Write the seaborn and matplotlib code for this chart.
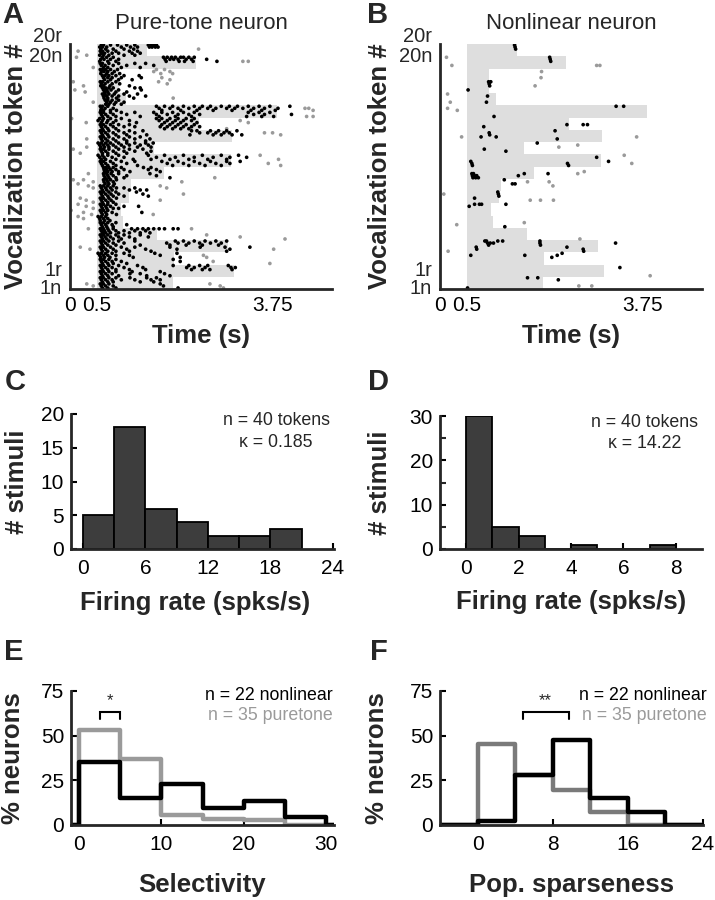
# Vocalization selectivity figure (panels A-F)

import pandas as pd
import matplotlib
matplotlib.use("Agg")
import matplotlib.pyplot as plt
import matplotlib.transforms as mtransforms
import seaborn as sns

# --- data ---

# stimulus duration (s) of tokens 1..20 (n and r versions share it), onset at 0.5 s
stim_dur = [1.40, 2.54, 1.43, 2.42, 1.11, 0.48, 0.44, 0.59, 0.62, 1.24,
            2.48, 1.06, 2.50, 1.89, 3.33, 0.54, 0.41, 0.41, 1.83, 0.92]
stim_onset = 0.5
resp_window = 0.42  # spikes later than stim end + this are spontaneous (gray)

# spike times (s); rows from top (20r, 20n, 19r ... 1r, 1n), trials split by "|"
raster_a = [
    "0.58 0.62 0.75 0.88 1.05 1.2 1.45 1.5 1.55 1.6 | 0.55 0.6 0.68 0.95 1.12 1.25 1.47 1.52 1.58 1.63 | 0.57 0.66 0.8 1.0 1.18 2.38",
    "0.15 0.56 0.6 0.7 0.85 1.1 1.25 | 0.58 0.64 0.78 0.9 1.15 1.3 | 0.31 0.55 0.62 0.72 1.0 1.2",
    "0.12 0.6 0.68 0.8 1.73 1.8 1.88 1.95 2.05 2.1 2.2 2.3 | 0.57 0.63 0.75 0.9 1.76 1.85 1.92 2.0 2.15 2.25 2.53 | 0.55 0.7 0.85 1.78 2.02 2.12 2.28 2.72 3.2 3.3",
    "0.56 0.6 0.72 0.9 1.2 1.4 | 0.58 0.65 0.8 1.05 1.55 | 0.43 0.62 0.7 0.95 1.3",
    "0.56 0.6 0.66 0.75 0.88 1.6 1.75 | 0.58 0.63 0.7 0.82 1.55 1.85 | 0.57 0.68 0.78 0.92 1.68 1.9",
    "0.6 0.65 0.72 0.85 1.0 1.28 | 0.62 0.7 0.78 0.95 1.32 1.7 | 0.64 0.75 0.9 1.15 1.85",
    "0.06 0.56 0.6 0.7 0.85 1.64 | 0.58 0.65 0.78 0.92 1.8 | 0.25 0.57 0.62 0.74 1.1",
    "0.6 0.66 0.72 0.8 1.2 1.3 | 0.09 0.62 0.68 0.76 0.9 1.32 | 0.28 0.64 0.7 0.85 1.05",
    "0.6 0.65 0.72 0.82 1.0 1.25 | 0.62 0.68 0.78 0.9 1.1 1.4 | 0.63 0.7 0.86 1.18 1.91",
    "0.65 0.7 0.78 0.9 | 0.43 0.68 0.75 0.85 1.0 | 0.66 0.72 0.82 0.95",
    "0.56 0.6 0.7 1.6 1.75 1.9 2.1 2.3 2.45 2.6 2.8 2.95 3.1 3.3 3.5 3.7 4.07 | 0.58 0.65 0.8 1.65 1.85 2.0 2.2 2.4 2.55 2.7 2.9 3.05 3.2 3.4 3.6 3.85 4.35 4.42 | 0.57 0.62 0.75 0.86 1.7 2.05 2.35 2.65 3.0 3.35 3.55 3.8 4.5",
    "0.56 0.62 0.75 0.95 1.2 1.55 1.7 1.9 2.1 2.3 3.3 3.5 3.7 | 0.58 0.66 0.8 1.05 1.6 1.8 2.0 2.2 2.4 3.4 3.6 4.1 | 0.6 0.7 0.85 1.3 1.65 1.95 2.25 3.27 3.55 3.77 4.38 4.5",
    "0.03 0.55 0.62 0.75 0.95 1.6 1.7 1.85 2.0 2.15 2.3 | 0.52 0.6 0.7 0.85 1.1 1.65 1.8 1.95 2.1 2.25 3.15 | 0.3 0.58 0.68 0.8 1.23 1.75 1.9 2.05 2.35 3.3",
    "0.56 0.62 0.75 0.9 1.1 1.7 1.85 2.0 2.15 2.3 | 0.58 0.66 0.8 1.0 1.2 1.67 1.8 1.95 2.1 2.25 2.4 | 0.6 0.7 0.85 1.75 1.9 2.05 2.2 2.9",
    "0.56 0.62 0.72 0.9 1.1 1.35 2.25 2.35 2.6 2.75 2.9 3.09 | 0.58 0.66 0.8 1.0 1.2 2.4 2.55 2.7 2.85 2.95 3.6 3.75 | 0.6 0.7 0.85 1.05 1.42 2.22 2.65 2.8 3.0 3.18 3.9",
    "0.56 0.62 0.72 0.9 1.1 1.3 | 0.31 0.58 0.66 0.8 1.0 1.2 1.48 | 0.6 0.7 0.85 1.05 1.4",
    "0.52 0.58 0.66 0.75 0.9 1.05 1.2 1.4 1.54 | 0.55 0.62 0.7 0.8 0.95 1.1 1.3 1.45 | 0.31 0.57 0.64 0.72 0.85 1.0 1.25 1.5",
    "0.06 0.56 0.62 0.72 0.9 1.1 1.35 | 0.58 0.66 0.8 1.0 1.2 1.5 | 0.19 0.6 0.7 0.85 1.05 1.42",
    "0.52 0.6 0.7 0.9 1.45 1.75 2.1 2.45 2.8 3.12 3.52 | 0.55 0.63 0.78 1.0 1.6 1.95 2.3 2.65 2.96 3.27 | 0.58 0.66 0.85 1.17 1.5 1.85 2.2 2.55 2.9 3.86",
    "0.56 0.62 0.75 0.95 1.2 1.7 2.0 2.3 2.6 2.9 3.15 | 0.58 0.66 0.8 1.05 1.8 2.1 2.4 2.7 2.96 3.67 | 0.6 0.7 0.85 1.25 1.9 2.2 2.5 2.8 3.9",
    "0.62 0.66 0.72 0.8 0.95 1.36 1.5 | 0.63 0.68 0.75 0.85 1.0 1.45 1.6 | 0.64 0.7 0.78 0.9 1.11 1.67",
    "0.34 0.62 0.68 0.76 0.9 1.48 | 0.63 0.7 0.8 1.05 1.6 | 0.65 0.72 0.85 1.0 1.85 2.68",
    "0.06 0.25 0.62 0.68 0.75 0.86 | 0.43 0.63 0.7 0.8 2.07 | 0.15 0.65 0.72 0.82",
    "0.34 0.56 0.62 0.7 0.8 1.67 | 0.43 0.58 0.66 0.75 0.86 1.0 1.2 1.79 | 0.6 0.68 0.78 1.1 1.3 1.42",
    "0.56 0.62 0.72 0.85 1.23 | 0.58 0.66 0.76 0.9 1.35 2.1 | 0.6 0.7 0.8 1.0 1.45",
    "0.19 0.56 0.62 0.72 0.86 | 0.3 0.58 0.66 0.76 1.67 | 0.43 0.6 0.7 0.8",
    "0.15 0.56 0.62 0.7 0.85 | 0.3 0.58 0.66 0.75 1.0 1.27 | 0.43 0.6 0.68 0.8 0.9",
    "0.02 0.56 0.62 0.7 | 0.25 0.58 0.66 0.78 1.33 | 0.4 0.6 0.68 0.86 1.54",
    "0.15 0.52 0.58 0.66 | 0.25 0.55 0.62 0.7 | 0.56 0.64 0.74",
    "0.56 0.62 0.7 0.85 | 0.58 0.66 0.78 1.05 | 0.6 0.68 0.8",
    "0.34 0.56 0.62 0.7 0.8 1.14 1.25 1.35 1.45 1.55 1.65 1.75 1.91 2.0 2.25 | 0.58 0.64 0.72 0.85 1.0 1.2 1.4 | 0.6 0.66 0.75 0.9 1.1 1.3 1.48",
    "0.56 0.62 0.7 0.85 1.0 1.3 2.53 | 0.58 0.65 0.75 0.9 1.1 1.45 3.15 | 0.6 0.68 0.8 0.95 1.2 3.98",
    "0.56 0.62 0.72 0.9 1.2 1.95 2.1 2.3 2.5 2.7 2.9 | 0.58 0.66 0.8 1.0 1.79 2.0 2.2 2.4 2.6 2.8 | 0.6 0.7 0.85 1.3 1.85 2.15 2.45 2.75",
    "0.19 0.56 0.62 0.75 0.95 1.2 1.85 2.41 2.87 3.33 | 0.37 0.58 0.66 0.8 1.05 1.4 1.98 2.96 3.77 | 0.6 0.7 0.85 1.1 1.5 2.9",
    "0.52 0.58 0.66 0.78 1.0 1.57 1.98 | 0.55 0.62 0.7 0.85 1.1 1.67 2.47 | 0.57 0.64 0.74 1.17 2.04 2.53",
    "0.56 0.62 0.72 0.85 1.91 | 0.58 0.66 0.78 0.95 2.04 2.65 | 0.6 0.7 0.8 1.05 3.7",
    "0.56 0.62 0.72 0.9 1.25 1.91 2.2 2.4 2.55 2.93 | 0.58 0.66 0.78 1.0 1.35 2.16 2.3 2.5 2.98 3.06 | 0.6 0.7 0.85 1.1 1.4 2.25 2.45 2.59 3.0",
    "0.56 0.62 0.72 0.85 1.15 1.67 | 0.58 0.66 0.78 1.11 1.3 1.75 | 0.6 0.7 0.9 1.42 1.85",
    "0.56 0.62 0.72 0.85 1.11 1.42 1.6 | 0.58 0.66 0.78 0.95 1.2 1.5 1.67 | 0.6 0.7 0.8 1.3 1.55",
    "0.31 0.56 0.62 0.72 1.67 2.59 | 0.43 0.58 0.66 0.8 1.73 2.78 | 0.6 0.7 0.85 2.0 2.84",
]

raster_b = [
    "1.38 | 1.39 | 1.4",
    "| |",
    "0.12 2.03 | 2.04 | 2.05",
    "| 0.22 2.9 2.96 |",
    "| 1.88 |",
    "| 1.87 |",
    "0.9 0.94 | 0.91 | 0.92 1.76",
    "| 0.52 |",
    "0.14 | 0.88 |",
    "| 0.19 0.86 |",
    "3.26 3.4 | 0.14 | 0.32",
    "| | 1.0",
    "| |",
    "2.35 2.65 2.73 | 0.81 |",
    "2.13 | 0.91 | 0.92",
    "0.4 0.76 1.04 3.64 | 2.17 |",
    "1.8 | 2.55 | 2.2",
    "0.82 | 1.22 |",
    "3.41 | 2.9 |",
    "0.57 3.12 | 0.59 2.36 3.55 | 0.6 2.38",
    "| | 2.67",
    "0.59 0.62 1.56 2.0 2.55 | 0.6 0.64 0.68 1.45 | 0.61 0.66 0.71",
    "1.19 | 1.62 2.02 | 1.34 1.39",
    "2.09 | |",
    "1.07 | 0.07 1.08 | 1.09",
    "0.64 | 1.67 1.86 2.1 |",
    "0.64 0.73 0.77 1.22 | 0.54 |",
    "| |",
    "| |",
    "1.56 | 0.31 | 1.2",
    "| |",
    "| | 2.59",
    "0.83 0.86 1.07 1.16 1.85 | 0.88 0.93 0.99 1.85 3.25 | 0.9 1.86",
    "0.67 2.35 | 0.68 2.65 | 0.15 2.66",
    "2.26 | 0.57 1.57 2.17 | 2.07",
    "| |",
    "| 3.33 |",
    "| | 3.89",
    "1.62 1.81 | 2.19 |",
    "| 2.57 2.81 | 0.51",
]

# panel C/D: stimulus counts per firing-rate bin
rate_edges_c = [0, 3, 6, 9, 12, 15, 18, 21]
rate_counts_c = [5, 18, 6, 4, 2, 2, 3]
rate_edges_d = [0, 1, 2, 3, 4, 5, 6, 7, 8]
rate_counts_d = [30, 5, 3, 0, 1, 0, 0, 1]

# panel E: % neurons per selectivity bin
sel_edges = [-5, 0, 5, 10, 15, 20, 25, 30, 35]
sel_nonlinear = [0, 35, 15, 23, 9.4, 13.7, 4.4, 0]
sel_puretone = [0, 53, 37, 5.6, 3.2, 3.0, 0, 0]

# panel F: % neurons per population-sparseness bin
spar_edges = [-4, 0, 4, 8, 12, 16, 20, 24]
spar_nonlinear = [0, 2.4, 27.8, 47.8, 15, 7.5, 0]
spar_puretone = [0, 45.4, 27.8, 19.7, 7.5, 0, 0]

# significance brackets: (x0, x1, y, label)
sig_e = (2.5, 5.0, 63.5, "*")
sig_f = (4.8, 9.7, 63.5, "**")

# --- style ---
sns.set_theme(style="ticks")
plt.rcParams["font.family"] = ["Liberation Sans", "DejaVu Sans"]
plt.rcParams["axes.linewidth"] = 2.0

GRAY_SPIKE = "#9a9a9a"
SHADE = "#dedede"
TICK_FS = 15
LABEL_FS = 18.5

fig = plt.figure(figsize=(7.15, 9.0), dpi=100)


def add_axes(left, top, right, bottom):
    W, H = 715.0, 900.0
    return fig.add_axes([left / W, 1 - bottom / H, (right - left) / W, (bottom - top) / H])


def style_axes(ax):
    sns.despine(ax=ax)
    ax.tick_params(direction="in", length=4, width=1.5, labelsize=TICK_FS, pad=5,
                   colors="black")
    ax.set_facecolor("none")


def spike_table(rows):
    recs = []
    n = len(rows)
    for j, row in enumerate(rows):
        token = 20 - j // 2
        end = stim_onset + stim_dur[token - 1]
        trials = row.split("|")
        for k, tr in enumerate(trials):
            for t in tr.split():
                t = float(t)
                kind = "resp" if stim_onset <= t <= end + resp_window else "spont"
                y = n - 1 - j + (len(trials) - k - 0.5) / len(trials)
                recs.append((t, y, kind))
    return pd.DataFrame(recs, columns=["time", "row", "kind"])


def raster(ax, rows, title, ylab_x):
    n = len(rows)
    bottoms = [n - 1 - j for j in range(n)]
    widths = [stim_dur[20 - j // 2 - 1] for j in range(n)]
    ax.barh(bottoms, widths, left=stim_onset, height=1.0, align="edge",
            color=SHADE, linewidth=0, zorder=0)
    df = spike_table(rows)
    sns.scatterplot(data=df, x="time", y="row", hue="kind",
                    palette={"resp": "black", "spont": GRAY_SPIKE},
                    s=7, linewidth=0, legend=False, ax=ax, zorder=2)
    ax.set_xlim(0, 4.85)
    ax.set_ylim(0, n)
    style_axes(ax)
    ax.tick_params(length=0)
    ax.set_xticks([0, 0.5, 3.75])
    ax.set_xticklabels(["0", "0.5", "3.75"])
    ax.set_yticks([])
    trans = mtransforms.blended_transform_factory(ax.transAxes, ax.transData)
    for lab, y in [("1n", 0.1), ("1r", 3.0), ("20n", 37.9), ("20r", 41.2)]:
        ax.text(-0.03, y, lab, transform=trans, ha="right", va="center",
                fontsize=14.5)
    ax.set_title(title, fontsize=16, pad=11)
    ax.set_xlabel("Time (s)", fontsize=LABEL_FS, fontweight="bold", va="center")
    ax.xaxis.set_label_coords(0.5, -0.19)
    ax.set_ylabel("Vocalization token #", fontsize=LABEL_FS, fontweight="bold",
                  va="center")
    ax.yaxis.set_label_coords(ylab_x, 0.5)


def rate_hist(ax, edges, counts, xlim, ylim, xticks, yticks, kappa, ylab_x, xlab_x):
    centers = [(a + b) / 2 for a, b in zip(edges[:-1], edges[1:])]
    sns.histplot(x=centers, weights=counts, bins=edges, ax=ax, color="#3d3d3d",
                 edgecolor="black", linewidth=1.3, alpha=1)
    ax.set_xlim(*xlim)
    ax.set_ylim(*ylim)
    style_axes(ax)
    ax.set_xticks(xticks)
    ax.set_yticks(yticks)
    ax.tick_params(axis="x", pad=7)
    ax.set_xlabel("Firing rate (spks/s)", fontsize=LABEL_FS, fontweight="bold",
                  va="center")
    ax.xaxis.set_label_coords(xlab_x, -0.40)
    ax.set_ylabel("# stimuli", fontsize=LABEL_FS, fontweight="bold", va="center")
    ax.yaxis.set_label_coords(ylab_x, 0.5)
    ax.text(0.78, 0.95, "n = 40 tokens", transform=ax.transAxes, ha="center",
            va="center", fontsize=12.8)
    ax.text(0.78, 0.79, "\u03ba = " + kappa, transform=ax.transAxes, ha="center",
            va="center", fontsize=12.8)


def step_hist(ax, edges, nonlin, pure, pure_color, xlim, xticks, xlabel, sig, ylab_x,
              legend_x):
    for vals, col in [(pure, pure_color), (nonlin, "black")]:
        centers = [(a + b) / 2 for a, b in zip(edges[:len(vals)], edges[1:len(vals) + 1])]
        sns.histplot(x=centers, weights=vals, bins=edges[:len(vals) + 1], ax=ax,
                     element="step", fill=False, color=col, linewidth=3.2)
    ax.set_xlim(*xlim)
    ax.set_ylim(0, 75)
    style_axes(ax)
    ax.set_xticks(xticks)
    ax.set_yticks([0, 25, 50, 75])
    ax.tick_params(axis="x", pad=7)
    ax.set_xlabel(xlabel, fontsize=LABEL_FS, fontweight="bold", va="center")
    ax.xaxis.set_label_coords(0.5, -0.45)
    ax.set_ylabel("% neurons", fontsize=LABEL_FS, fontweight="bold", va="center")
    ax.yaxis.set_label_coords(ylab_x, 0.5)
    x0, x1, y, lab = sig
    ax.plot([x0, x0, x1, x1], [y - 4, y, y, y - 4], color="black", lw=1.5,
            solid_joinstyle="miter")
    ax.text((x0 + x1) / 2, y + 2, lab, ha="center", va="bottom", fontsize=12)
    ax.text(legend_x, 0.963, "n = 22 nonlinear", transform=ax.transAxes, ha="right",
            va="center", fontsize=12.8, color="black")
    ax.text(legend_x, 0.815, "n = 35 puretone", transform=ax.transAxes, ha="right",
            va="center", fontsize=12.8, color="#9a9a9a")


# A / B rasters
ax_a = add_axes(70, 44, 332, 289)
raster(ax_a, raster_a, "Pure-tone neuron", -0.205)
ax_b = add_axes(440, 44, 702, 289)
raster(ax_b, raster_b, "Nonlinear neuron", -0.23)

# C / D firing-rate histograms
ax_c = add_axes(71, 414, 334, 549)
rate_hist(ax_c, rate_edges_c, rate_counts_c, (-1.15, 24.1), (0, 20),
          [0, 6, 12, 18, 24], [0, 5, 10, 15, 20], "0.185", -0.205, 0.47)
ax_d = add_axes(440, 416, 702, 549)
rate_hist(ax_d, rate_edges_d, rate_counts_d, (-1.0, 9.0), (0, 30),
          [0, 2, 4, 6, 8], [0, 10, 20, 30], "14.22", -0.23, 0.5)
ax_d.set_yticks([5, 15, 25], minor=True)
ax_d.tick_params(which="minor", direction="in", length=4, width=1.5)

# E / F population histograms
ax_e = add_axes(71, 691, 334, 825)
step_hist(ax_e, sel_edges, sel_nonlinear, sel_puretone, "#9a9a9a", (-1, 31),
          [0, 10, 20, 30], "Selectivity", sig_e, -0.22, 0.996)
ax_f = add_axes(440, 691, 703, 825)
step_hist(ax_f, spar_edges, spar_nonlinear, spar_puretone, "#7a7a7a", (-4, 24),
          [0, 8, 16, 24], "Pop. sparseness", sig_f, -0.24, 1.015)

# panel letters
for lab, x, y in [("A", 13, 15), ("B", 378, 15), ("C", 15, 382), ("D", 378, 382),
                  ("E", 14, 652), ("F", 379, 652)]:
    fig.text(x / 715, 1 - y / 900, lab, fontsize=21, fontweight="bold",
             ha="center", va="center")

fig.savefig("out.png", dpi=100)
